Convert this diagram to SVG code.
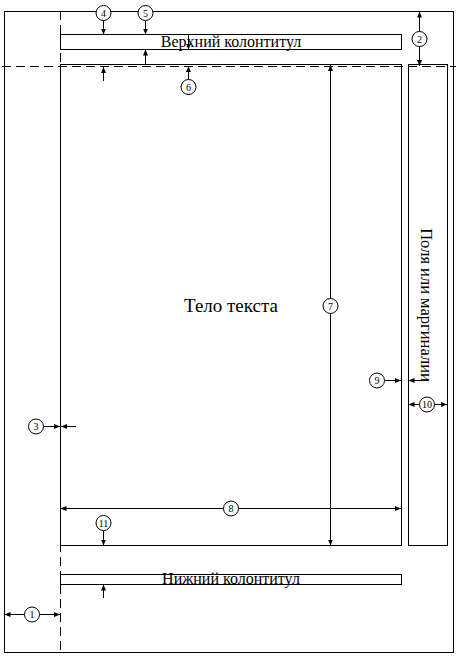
<svg xmlns="http://www.w3.org/2000/svg" width="462" height="657" viewBox="0 0 462 657">
<style>
.ln{stroke:#000;stroke-width:1;fill:none}
.dash{stroke:#000;stroke-width:1;fill:none;stroke-dasharray:9,5}
.ar{stroke:#000;stroke-width:1;fill:none;marker-end:url(#ah)}
.cc{stroke:#000;stroke-width:1;fill:#fff}
.num{font-family:"Liberation Serif","DejaVu Serif",serif;font-size:10px;text-anchor:middle}
.lbl{font-family:"Liberation Serif","DejaVu Serif",serif;font-size:16px;text-anchor:middle}
</style>
<defs>
<marker id="ah" markerWidth="6" markerHeight="5" refX="6" refY="2.5" orient="auto" markerUnits="userSpaceOnUse">
<path d="M0,0 L6,2.5 L0,5 z" fill="#000"/>
</marker>
</defs>
<rect width="462" height="657" fill="#fff"/>
<g id="page"><rect class="ln" x="4.5" y="11.5" width="449" height="641"/></g>
<g id="guides">
<line class="dash" x1="2" y1="66.5" x2="456" y2="66.5"/>
<line class="dash" x1="60.5" y1="11" x2="60.5" y2="653"/>
</g>
<g id="header"><rect class="ln" x="60.5" y="34.5" width="341" height="15"/>
<text class="lbl" x="231" y="46.5">Верхний колонтитул</text></g>
<g id="body"><rect class="ln" x="60.5" y="64.5" width="341" height="481"/>
<text class="lbl" x="231" y="312" style="font-size:19px">Тело текста</text></g>
<g id="margin"><rect class="ln" x="408.5" y="64.5" width="39" height="481"/>
<text class="lbl" transform="translate(421,305) rotate(90)" style="font-size:16.5px">Поля или маргиналии</text></g>
<g id="footer"><rect class="ln" x="60.5" y="574.5" width="341" height="10"/>
<text class="lbl" x="231" y="583.5">Нижний колонтитул</text></g>
<g id="connectors">
<line class="ar" x1="103.5" y1="20.5" x2="103.5" y2="34.5"/>
<line class="ar" x1="103.5" y1="81" x2="103.5" y2="67"/>
<line class="ar" x1="145.5" y1="20.5" x2="145.5" y2="34.5"/>
<line class="ar" x1="145.5" y1="64.5" x2="145.5" y2="49.5"/>
<line class="ar" x1="188.5" y1="79.5" x2="188.5" y2="66"/>
<line class="ar" x1="188.5" y1="34.5" x2="188.5" y2="49.5"/>
<line class="ar" x1="419.5" y1="31.5" x2="419.5" y2="11.5"/>
<line class="ar" x1="419.5" y1="46.5" x2="419.5" y2="66"/>
<line class="ar" x1="330.5" y1="298.5" x2="330.5" y2="65"/>
<line class="ar" x1="330.5" y1="313.5" x2="330.5" y2="545.5"/>
<line class="ar" x1="223.5" y1="508.5" x2="60.5" y2="508.5"/>
<line class="ar" x1="238.5" y1="508.5" x2="401" y2="508.5"/>
<line class="ar" x1="384.5" y1="380.5" x2="401" y2="380.5"/>
<line class="ar" x1="428" y1="380.5" x2="408.5" y2="380.5"/>
<line class="ar" x1="419.5" y1="404.5" x2="408.5" y2="404.5"/>
<line class="ar" x1="434.5" y1="404.5" x2="447" y2="404.5"/>
<line class="ar" x1="43.5" y1="426.5" x2="60" y2="426.5"/>
<line class="ar" x1="76" y1="426.5" x2="61" y2="426.5"/>
<line class="ar" x1="103.5" y1="530.5" x2="103.5" y2="545.5"/>
<line class="ar" x1="103.5" y1="598" x2="103.5" y2="584.5"/>
<line class="ar" x1="24.5" y1="614.5" x2="4.5" y2="614.5"/>
<line class="ar" x1="39.5" y1="614.5" x2="60" y2="614.5"/>
</g>
<g id="labels">
<circle class="cc" cx="103.5" cy="13" r="7.5"/><text class="num" x="103.5" y="16.5">4</text>
<circle class="cc" cx="145.5" cy="13" r="7.5"/><text class="num" x="145.5" y="16.5">5</text>
<circle class="cc" cx="188.5" cy="87" r="7.5"/><text class="num" x="188.5" y="90.5">6</text>
<circle class="cc" cx="419.5" cy="39" r="7.5"/><text class="num" x="419.5" y="42.5">2</text>
<circle class="cc" cx="330.5" cy="306" r="7.5"/><text class="num" x="330.5" y="309.5">7</text>
<circle class="cc" cx="231" cy="508.5" r="7.5"/><text class="num" x="231" y="512">8</text>
<circle class="cc" cx="377" cy="380.5" r="7.5"/><text class="num" x="377" y="384">9</text>
<circle class="cc" cx="427" cy="404.5" r="7.5"/><text class="num" x="427" y="408">10</text>
<circle class="cc" cx="36" cy="426.5" r="7.5"/><text class="num" x="36" y="430">3</text>
<circle class="cc" cx="103.5" cy="523" r="7.5"/><text class="num" x="103.5" y="526.5">11</text>
<circle class="cc" cx="32" cy="614.5" r="7.5"/><text class="num" x="32" y="618">1</text>
</g>
</svg>
